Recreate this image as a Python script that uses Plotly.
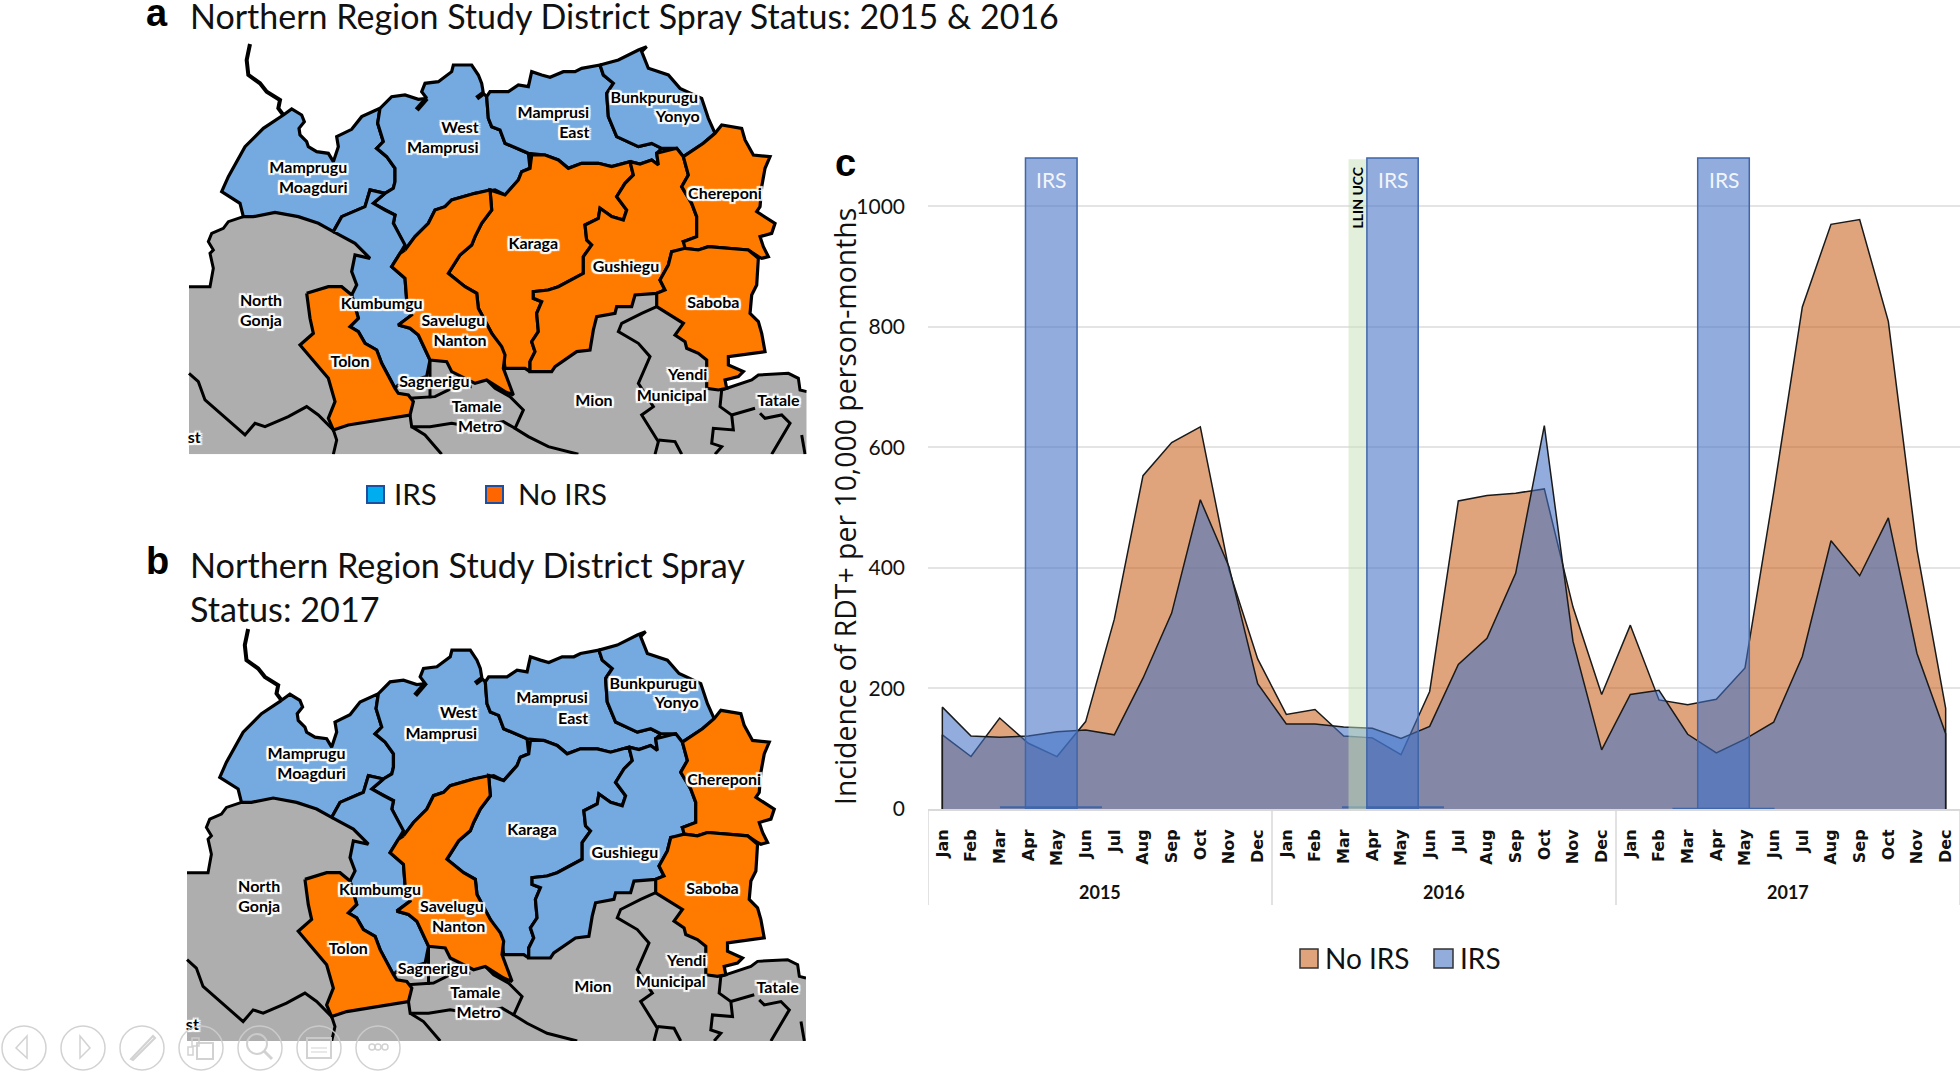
import plotly.graph_objects as go

W, H = 1960, 1072
CAL = "Lato"

# ---------- chart c data ----------
MONTHS = ["Jan","Feb","Mar","Apr","May","Jun","Jul","Aug","Sep","Oct","Nov","Dec"] * 3
YEARS = ["2015", "2016", "2017"]
NO_IRS = [123,87,151,109,87,145,315,553,608,634,397,249,
          157,165,121,118,90,195,511,520,524,531,335,190,
          305,181,173,182,234,525,833,970,978,809,430,167]
IRS = [169,121,119,121,128,131,123,217,325,513,402,208,
       141,141,136,134,117,137,240,283,391,636,278,98,
       190,197,124,93,116,144,253,445,387,483,258,125]
YTICKS = [0, 200, 400, 600, 800, 1000]
IRS_BANDS = [(2.90, 4.70), (14.81, 16.60), (26.35, 28.15)]
IRS_BASELINES = [(2.01, 5.57, 3), (13.94, 17.5, 3), (25.47, 29.03, 0.5)]
LLIN_BAND = (14.17, 14.78)

# ---------- map data (outlines, in map units) ----------
GRAY = [(175,530),(205,530),(270,517),(340,530),(400,550),(445,575),(510,610),(600,700),(700,700),
        (1200,800),(1400,750),(1500,750),(1600,950),(1610,1050),(1700,1020),(1720,1005),(1810,1000),
        (1840,1015),(1845,1050),(1865,1055),(1865,1243),(12,1243),(12,740),(75,740),(85,685),(75,640),
        (85,630),(70,605),(80,580),(115,565),(130,545)]
MAMPRUGU = [(295,225),(320,207),(350,225),(358,245),(342,265),(345,285),(365,305),(370,320),(395,335),
            (430,340),(445,365),(460,320),(455,290),(500,268),(530,230),(585,205),(578,250),(590,290),
            (595,305),(575,325),(605,350),(630,385),(630,425),(625,445),(600,460),(555,450),(540,500),
            (470,530),(445,575),(400,550),(340,530),(270,517),(205,530),(175,530),(165,490),(110,455),
            (130,410),(180,320),(235,265)]
WEST_MAMPRUSI = [(585,205),(620,170),(660,165),(700,178),(725,175),(710,155),(720,130),(760,125),(800,95),
                 (805,75),(860,75),(880,105),(890,130),(895,160),(905,170),(910,235),(920,260),(945,270),
                 (960,310),(1030,340),(1035,385),(1010,395),(1000,420),(960,465),(930,450),(870,460),
                 (800,480),(780,500),(750,510),(730,550),(690,590),(660,630),(650,600),(625,550),(630,525),
                 (600,510),(565,490),(600,460),(625,445),(630,425),(630,385),(605,350),(575,325),(595,305),
                 (590,290),(578,250)]
MAMPRUSI_EAST = [(905,170),(915,155),(970,155),(1000,135),(1030,140),(1040,95),(1070,105),(1095,112),(1135,95),
                 (1170,95),(1190,85),(1245,75),(1255,105),(1285,130),(1265,160),(1270,230),(1295,290),
                 (1360,320),(1400,310),(1430,325),(1415,340),(1420,375),(1400,360),(1365,372),(1335,365),
                 (1280,380),(1240,370),(1190,370),(1150,385),(1120,360),(1080,345),(1030,340),(960,310),
                 (945,270),(920,260),(910,235)]
BUNKPURUGU = [(1245,75),(1300,60),(1360,30),(1385,20),(1370,35),(1390,85),(1450,105),(1485,145),(1550,175),
              (1570,235),(1590,280),(1555,310),(1495,350),(1475,325),(1430,325),(1400,310),(1360,320),
              (1295,290),(1270,230),(1265,160),(1285,130),(1255,105)]
KARAGA = [(1040,345),(1080,345),(1120,360),(1150,385),(1190,370),(1240,370),(1280,380),(1335,365),(1345,405),
          (1320,430),(1295,470),(1325,510),(1315,540),(1280,530),(1245,505),(1240,535),(1200,555),(1205,600),
          (1220,615),(1195,650),(1195,700),(1120,740),(1090,750),(1045,755),(1045,775),(1070,785),(1055,820),
          (1060,875),(1040,905),(1050,935),(1035,965),(1035,995),(1020,985),(960,985),(955,945),(920,880),
          (880,805),(875,760),(840,740),(790,700),(825,645),(860,615),(870,590),(890,550),(920,510),(915,450),
          (960,465),(1000,420),(1010,395),(1035,385)]
GUSHIEGU = [(1335,365),(1365,372),(1400,360),(1420,375),(1415,340),(1475,325),(1495,350),(1510,405),(1490,440),
            (1520,490),(1535,530),(1535,590),(1495,605),(1510,630),(1460,635),(1450,675),(1425,720),(1440,750),
            (1415,760),(1350,765),(1340,800),(1295,800),(1290,820),(1235,830),(1225,870),(1215,930),(1175,935),
            (1110,980),(1100,995),(1060,995),(1035,995),(1035,965),(1050,935),(1040,905),(1060,875),(1055,820),
            (1070,785),(1045,775),(1045,755),(1090,750),(1120,740),(1195,700),(1195,650),(1220,615),(1205,600),
            (1200,555),(1240,535),(1245,505),(1280,530),(1315,540),(1325,510),(1295,470),(1320,430),(1345,405)]
CHEREPONI = [(1495,350),(1555,310),(1590,280),(1610,255),(1670,265),(1680,300),(1705,345),(1755,350),(1740,385),
             (1730,440),(1725,500),(1715,515),(1770,550),(1760,580),(1725,590),(1735,620),(1750,650),(1730,655),
             (1720,650),(1690,630),(1630,625),(1570,620),(1540,630),(1500,625),(1495,605),(1535,590),(1535,530),
             (1520,490),(1490,440),(1510,405)]
SABOBA = [(1500,625),(1540,630),(1570,620),(1630,625),(1690,630),(1720,655),(1715,735),(1700,765),(1695,820),
          (1720,845),(1730,880),(1740,935),(1630,950),(1630,975),(1675,995),(1660,1010),(1620,1020),(1625,1045),
          (1600,1050),(1565,1045),(1565,960),(1540,940),(1505,925),(1500,905),(1470,885),(1495,850),(1415,800),
          (1415,760),(1440,750),(1425,720),(1450,675),(1460,635)]
KUMBUMGU = [(445,575),(470,530),(540,500),(555,450),(600,460),(565,490),(600,510),(630,525),(625,550),(650,600),
            (660,615),(645,640),(620,680),(660,715),(665,780),(680,825),(640,855),(675,865),(700,885),(735,960),
            (725,1010),(640,1035),(630,1045),(590,970),(575,930),(540,910),(520,875),(495,860),(520,835),(500,765),
            (515,735),(500,695),(510,645),(555,655),(530,630),(510,610)]
SAVELUGU = [(660,630),(690,590),(730,550),(750,510),(780,500),(800,480),(870,460),(915,450),(920,510),(890,550),
            (870,590),(860,615),(825,645),(790,700),(840,740),(875,760),(880,805),(920,880),(950,920),(960,945),
            (955,985),(985,1065),(960,1055),(905,1020),(870,1030),(800,995),(785,965),(735,960),(700,885),(675,865),
            (640,855),(680,825),(665,780),(660,715),(620,680),(645,640)]
TOLON = [(365,760),(395,750),(430,740),(470,740),(500,765),(520,835),(495,860),(520,875),(540,910),(575,930),
         (590,970),(630,1045),(640,1060),(670,1065),(685,1085),(675,1125),(615,1135),(575,1140),(490,1155),
         (445,1170),(430,1135),(450,1085),(430,1015),(345,915),(385,880),(375,835)]

DISTRICTS = {"Mamprugu Moagduri": MAMPRUGU, "West Mamprusi": WEST_MAMPRUSI, "Mamprusi East": MAMPRUSI_EAST,
             "Bunkpurugu Yonyo": BUNKPURUGU, "Kumbumgu": KUMBUMGU, "Karaga": KARAGA, "Gushiegu": GUSHIEGU,
             "Chereponi": CHEREPONI, "Saboba": SABOBA, "Savelugu Nanton": SAVELUGU, "Tolon": TOLON}
NO_IRS_A = ["Karaga", "Gushiegu", "Chereponi", "Saboba", "Savelugu Nanton", "Tolon"]
NO_IRS_B = ["Chereponi", "Saboba", "Savelugu Nanton", "Tolon"]

NORTH_BORDER = [(195,12),(185,60),(190,105),(225,130),(245,155),(285,180),(280,205),(295,225)]
BORDERS = [
    [(175,530),(130,545),(115,565),(80,580),(70,605),(85,630),(75,640),(85,685),(75,740),(12,740)],
    [(12,1000),(40,1025),(60,1080),(110,1125),(180,1185),(210,1150),(240,1160),(310,1130),(365,1100),(400,1125),(445,1170)],
    [(445,1170),(455,1200),(445,1243)],
    [(675,1125),(680,1160),(735,1160),(800,1150),(830,1155)],
    [(680,1160),(720,1185),(770,1243)],
    [(672,1075),(750,1070),(800,1045),(860,1040)],
    [(735,960),(735,1075)],
    [(905,1020),(930,1045),(975,1070),(1015,1110),(990,1165),(1030,1190),(1090,1220),(1180,1243)],
    [(930,1150),(955,1145),(990,1165)],
    [(1415,800),(1370,820),(1310,850),(1300,875),(1360,910),(1395,950),(1360,1030),(1405,1100),(1370,1125),(1400,1175),(1420,1205),(1410,1243)],
    [(1420,1200),(1470,1205),(1490,1243)],
    [(1610,1050),(1605,1100),(1640,1125),(1645,1170),(1585,1165),(1580,1210),(1610,1220),(1590,1243)],
    [(1640,1125),(1710,1105)],
    [(1725,1120),(1740,1135),(1790,1125),(1815,1150),(1760,1243)],
    [(1610,1050),(1700,1020),(1720,1005),(1810,1000),(1840,1015),(1845,1050),(1865,1055)],
    [(1850,1185),(1860,1243)],
]
STUBS = [[(725,175),(695,210)], [(895,160),(875,175)]]

LABELS = ["Mamprugu","Moagduri","West","Mamprusi","Mamprusi","East","Bunkpurugu","Yonyo","Chereponi","Karaga",
          "Gushiegu","Saboba","Kumbumgu","Savelugu","Nanton","North","Gonja","Tolon","Sagnerigu","Tamale","Metro",
          "Mion","Yendi","Municipal","Tatale","st"]
LABEL_X = [370,385,825,773,1105,1168,1408,1478,1620,1045,1323,1585,590,805,825,228,228,495,748,875,885,1227,1508,1460,1780,28]
LABEL_Y = [388,447,267,328,222,283,178,235,465,615,683,793,795,847,905,787,847,970,1030,1103,1163,1085,1007,1070,1087,1197]

C_BLUE, C_ORANGE, C_GRAY = "#74AAE0", "#FF7B00", "#AEAEAE"
HALO = ",".join(f"{a}px {b}px 1px #fff" for a, b in [(2,0),(-2,0),(0,2),(0,-2),(2,2),(-2,2),(2,-2),(-2,-2)])

def fx(x): return x / W
def fy(y): return 1 - y / H

fig = go.Figure()

# ---------- maps ----------
def add_map(xa, ya, orange):
    g = GRAY
    fig.add_trace(go.Scatter(x=[p[0] for p in g], y=[p[1] for p in g], xaxis=xa, yaxis=ya, mode="lines",
                             fill="toself", fillcolor=C_GRAY, line=dict(width=0), hoverinfo="skip", showlegend=False))
    for b in BORDERS:
        fig.add_trace(go.Scatter(x=[p[0] for p in b], y=[p[1] for p in b], xaxis=xa, yaxis=ya, mode="lines",
                                 line=dict(color="#000", width=3), hoverinfo="skip", showlegend=False))
    fig.add_trace(go.Scatter(x=[p[0] for p in NORTH_BORDER], y=[p[1] for p in NORTH_BORDER], xaxis=xa, yaxis=ya,
                             mode="lines", line=dict(color="#000", width=4), hoverinfo="skip", showlegend=False))
    for name, poly in DISTRICTS.items():
        xs = [p[0] for p in poly] + [poly[0][0]]
        ys = [p[1] for p in poly] + [poly[0][1]]
        fig.add_trace(go.Scatter(x=xs, y=ys, xaxis=xa, yaxis=ya, mode="lines", fill="toself", name=name,
                                 fillcolor=C_ORANGE if name in orange else C_BLUE,
                                 line=dict(color="#000", width=3.2), showlegend=False))
    for b in STUBS:
        fig.add_trace(go.Scatter(x=[p[0] for p in b], y=[p[1] for p in b], xaxis=xa, yaxis=ya, mode="lines",
                                 line=dict(color="#000", width=5), hoverinfo="skip", showlegend=False))
    fig.add_trace(go.Scatter(x=LABEL_X, y=LABEL_Y, text=LABELS, xaxis=xa, yaxis=ya, mode="text",
                             textposition="middle center", hoverinfo="skip", showlegend=False,
                             textfont=dict(family=CAL, size=16, color="#000", weight=700, shadow=HALO)))

add_map("x2", "y2", NO_IRS_A)
add_map("x3", "y3", NO_IRS_B)

# ---------- areas ----------
xs = list(range(len(MONTHS)))
def outline(vals):
    return [xs[0]] + xs + [xs[-1]], [0] + vals + [0]

ax_, ay_ = outline(NO_IRS)
fig.add_trace(go.Scatter(x=ax_, y=ay_, name="No IRS", mode="lines", fill="tozeroy",
                         fillcolor="rgba(197,90,17,0.55)", line=dict(color="#1a1a1a", width=1.5), showlegend=False))
bx_, by_ = outline(IRS)
fig.add_trace(go.Scatter(x=bx_, y=by_, name="IRS", mode="lines", fill="tozeroy",
                         fillcolor="rgba(68,114,196,0.58)", line=dict(color="#1a1a1a", width=1.5), showlegend=False))

shapes, ann = [], []

for a, b in IRS_BANDS:
    shapes.append(dict(type="rect", xref="x", yref="y", x0=a, x1=b, y0=0, y1=1080, layer="above",
                       fillcolor="rgba(68,114,196,0.58)", line=dict(color="#3F66A8", width=1.5)))
    ann.append(dict(x=(a + b) / 2, y=1045, xref="x", yref="y", text="IRS", showarrow=False,
                    font=dict(family=CAL, size=21, color="rgba(255,255,255,0.9)")))
for a, b, v in IRS_BASELINES:
    shapes.append(dict(type="line", xref="x", yref="y", x0=a, x1=b, y0=v, y1=v, layer="above",
                       line=dict(color="#3F66A8", width=2)))
shapes.append(dict(type="rect", xref="x", yref="y", x0=LLIN_BAND[0], x1=LLIN_BAND[1], y0=0, y1=1078, layer="above",
                   fillcolor="rgba(197,223,181,0.5)", line=dict(width=0)))
ann.append(dict(x=sum(LLIN_BAND) / 2, y=1015, xref="x", yref="y", text="<b>LLIN UCC</b>", textangle=-90, showarrow=False,
                font=dict(family=CAL, size=14, color="#000")))

# year dividers + labels
for d in [-0.5, 11.5, 23.5, 35.5]:
    shapes.append(dict(type="line", xref="x", yref="paper", x0=d, x1=d, y0=fy(809), y1=fy(905),
                       line=dict(color="#d9d9d9", width=1.5)))
for i, yr in enumerate(YEARS):
    ann.append(dict(x=5.5 + 12 * i, y=fy(892), xref="x", yref="paper", yanchor="middle", text=f"<b>{yr}</b>",
                    showarrow=False, font=dict(family=CAL, size=18, color="#111")))

# chart c legend
def swatch(x0, x1, y0, y1, fill, line, lw=1.5):
    shapes.append(dict(type="rect", xref="paper", yref="paper", x0=fx(x0), x1=fx(x1), y0=fy(y0), y1=fy(y1),
                       fillcolor=fill, line=dict(color=line, width=lw)))
def text(x, y, s, size, family=CAL, color="#111", anchor="left"):
    ann.append(dict(x=fx(x), y=fy(y), xref="paper", yref="paper", text=s, showarrow=False, xanchor=anchor,
                    yanchor="middle", align="left", font=dict(family=family, size=size, color=color)))

swatch(1300, 1318, 949, 968, "rgb(223,164,124)", "#333")
text(1323, 958, "No IRS", 28)
swatch(1434, 1453, 949, 968, "rgb(146,172,220)", "#333")
text(1458, 958, "IRS", 28)

# map a legend
swatch(367, 384, 486, 503, "#00AEEF", "#1F4E9E", 2)
text(392, 494, "IRS", 29.5)
swatch(486, 503, 486, 503, "#FF6600", "#1F4E9E", 2)
text(516, 494, "No IRS", 29.5)

# panel titles
text(188, 15, "Northern Region Study District Spray Status: 2015 &amp; 2016", 34)
text(188, 586, "Northern Region Study District Spray<br>Status: 2017", 34.2)
text(144, 13, "<b>a</b>", 38, "Liberation Sans", "#000")
text(144, 561, "<b>b</b>", 38, "Liberation Sans", "#000")
text(833, 163, "<b>c</b>", 38, "Liberation Sans", "#000")

# y-axis title
ann.append(dict(x=fx(845), y=fy(507), xref="paper", yref="paper", text="Incidence of RDT+ per 10,000 person-months",
                textangle=-90, showarrow=False, font=dict(family="Open Sans", size=28.4, color="#111")))

# viewer toolbar (greyed-out circles at the bottom left)
TOOL_X = [24, 83, 142, 201, 260, 319, 378]
TOOL_Y, TOOL_R = 1048, 22
GREY = "rgba(205,205,205,0.9)"
def path(points, close=False):
    s = "M " + " L ".join(f"{fx(x):.5f},{fy(y):.5f}" for x, y in points)
    return s + (" Z" if close else "")
def pshape(points, close=False, w=1.5):
    shapes.append(dict(type="path", xref="paper", yref="paper", path=path(points, close), layer="above",
                       line=dict(color=GREY, width=w)))
def circ(cx, cy, r, w=1.5):
    shapes.append(dict(type="circle", xref="paper", yref="paper", x0=fx(cx - r), x1=fx(cx + r),
                       y0=fy(cy + r), y1=fy(cy - r), layer="above", line=dict(color=GREY, width=w)))
for cx in TOOL_X:
    circ(cx, TOOL_Y, TOOL_R)
pshape([(27, 1036), (16, 1048), (27, 1058)], True)
pshape([(80, 1036), (90, 1048), (80, 1058)], True)
pshape([(131, 1059), (153, 1036), (155, 1038), (133, 1060)], True, 2)
pshape([(192, 1038), (192, 1046), (199, 1046), (199, 1038)], True)
pshape([(188, 1047), (188, 1055), (193, 1055), (193, 1047)], True)
pshape([(197, 1043), (213, 1043), (213, 1059), (197, 1059)], True, 2)
circ(257, 1044, 10, 2)
pshape([(264, 1051), (272, 1059)], False, 3)
pshape([(307, 1038), (331, 1038), (331, 1058), (307, 1058)], True, 2)
pshape([(311, 1048), (327, 1048)], False, 1)
pshape([(311, 1052), (327, 1052)], False, 1)
for cx in (372, 378, 385):
    circ(cx, 1047, 3, 1.5)

fig.update_layout(
    template="none",
    width=W, height=H, margin=dict(l=0, r=0, t=0, b=0, pad=0), paper_bgcolor="white", plot_bgcolor="white",
    font=dict(family=CAL), shapes=shapes, annotations=ann, showlegend=False,
    xaxis=dict(domain=[fx(928), 1], range=[-0.5, 35.5], tickmode="array", tickvals=xs, ticktext=MONTHS, tickangle=-90,
               showgrid=False, zeroline=False, showline=True, linecolor="#d9d9d9", linewidth=2, ticks="", automargin=False,
               ticklabelstandoff=12, tickfont=dict(family="DejaVu Sans", size=16, color="#111", weight=700), anchor="y"),
    yaxis=dict(domain=[fy(809), fy(155)], range=[0, 1085], tickmode="array", tickvals=YTICKS, showgrid=True,
               gridcolor="#e4e4e4", gridwidth=2, zeroline=False, showline=False, ticks="", ticklabelstandoff=22,
               automargin=False, tickfont=dict(family=CAL, size=21, color="#111"), anchor="x"),
    xaxis2=dict(domain=[fx(185), fx(806.7)], range=[0, 1865], visible=False, anchor="y2", automargin=False),
    yaxis2=dict(domain=[fy(454.3), fy(40)], range=[1243, 0], visible=False, anchor="x2", automargin=False),
    xaxis3=dict(domain=[fx(183), fx(806)], range=[0, 1865], visible=False, anchor="y3", automargin=False),
    yaxis3=dict(domain=[fy(1041), fy(625)], range=[1243, 0], visible=False, anchor="x3", automargin=False),
)

fig.write_html("out.html", config={"displayModeBar": False},
               post_script="document.body.style.margin='0';document.body.style.overflow='hidden';")
